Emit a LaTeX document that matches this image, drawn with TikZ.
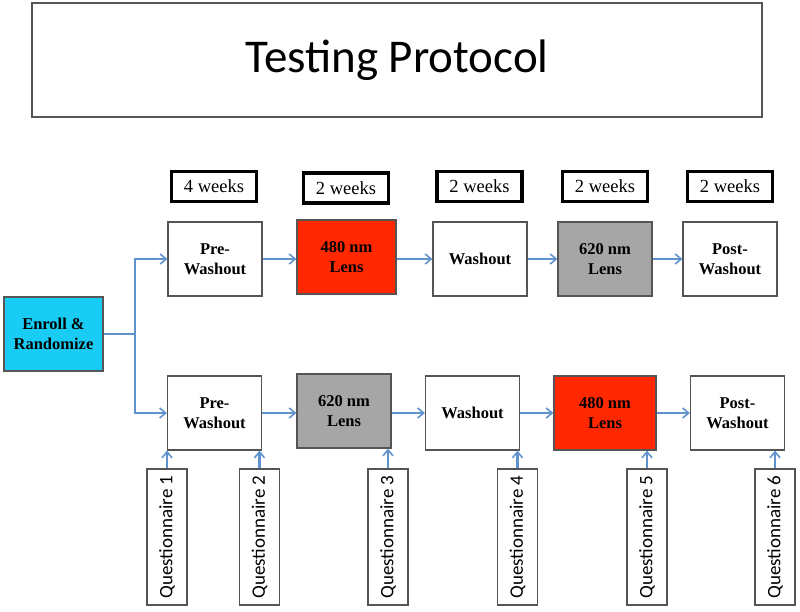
\documentclass[tikz,border=0pt]{standalone}
\usepackage{fontspec}
\setmainfont{Liberation Serif}
\newfontfamily\calibri{Carlito}
\usepackage{tikz}
\usetikzlibrary{positioning, calc, arrows.meta}
\definecolor{flowblue}{RGB}{96,146,206}
\definecolor{lensred}{RGB}{255,40,0}
\definecolor{lensgray}{RGB}{166,166,166}
\definecolor{enrollcyan}{RGB}{24,204,244}
\definecolor{edgegray}{RGB}{85,85,85}
\tikzset{>={Straight Barb[length=6pt,width=10pt,line width=1.6pt]}}
\tikzset{
  phase/.style={draw=edgegray, line width=1.2pt, minimum width=94pt, minimum height=74pt,
    inner sep=0pt, align=center, font=\bfseries\fontsize{16.5}{20}\selectfont},
  weeks/.style={draw=black, line width=3.6pt, minimum width=85pt, minimum height=30pt,
    inner sep=0pt, font=\fontsize{18.5}{22}\selectfont},
  quest/.style={draw=edgegray, line width=1.2pt, rotate=90, minimum width=136pt,
    minimum height=40pt, inner sep=0pt, font=\calibri\fontsize{19}{22}\selectfont},
  flow/.style={->, draw=flowblue, line width=2.4pt}
}

\begin{document}
\begin{tikzpicture}[x=1pt, y=-1pt]
    \useasboundingbox (0,0) rectangle (800,611);

    \node[draw=edgegray, line width=1.4pt, minimum width=730pt, minimum height=114pt,
      font=\calibri\fontsize{47}{56}\selectfont] (title) at (397,60) {Testing Protocol};

    % durations
    \node[weeks] (w1) at (214,186.5) {4 weeks};
    \node[weeks] (w2) at (346,188) {2 weeks};
    \node[weeks] (w3) at (479.5,186.5) {2 weeks};
    \node[weeks] (w4) at (605,186.5) {2 weeks};
    \node[weeks] (w5) at (730,186.5) {2 weeks};

    \node[phase, fill=enrollcyan, minimum width=99pt] (enroll) at (53.5,334) {Enroll \&\\Randomize};
    \coordinate (split) at (135,334);

    % first sequence
    \node[phase] (pw1) at (215,259) {Pre-\\Washout};
    \node[phase, fill=lensred, minimum width=99pt] (lensA1) at (346.5,257) {480 nm\\Lens};
    \node[phase] (wo1) at (480,259) {Washout};
    \node[phase, fill=lensgray] (lensB1) at (605,259) {620 nm\\Lens};
    \node[phase] (post1) at (730,259) {Post-\\Washout};

    % second sequence
    \node[phase] (pw2) at (214.5,413) {Pre-\\Washout};
    \node[phase, fill=lensgray] (lensB2) at (344,411) {620 nm\\Lens};
    \node[phase] (wo2) at (472.5,413) {Washout};
    \node[phase, fill=lensred, minimum width=102pt] (lensA2) at (605,413) {480 nm\\Lens};
    \node[phase] (post2) at (737.5,413) {Post-\\Washout};

    % questionnaires
    \node[quest] (q1) at (167,537) {Questionnaire 1};
    \node[quest] (q2) at (259.5,537) {Questionnaire 2};
    \node[quest] (q3) at (388,537) {Questionnaire 3};
    \node[quest] (q4) at (517.5,537) {Questionnaire 4};
    \node[quest] (q5) at (647,537) {Questionnaire 5};
    \node[quest] (q6) at (775,537) {Questionnaire 6};

    \draw[flowblue, line width=2.4pt] (enroll.east) -- (split);
    \draw[flow] (split) |- (pw1.west);
    \draw[flow] (split) |- (pw2.west);

    \draw[flow] (pw1) -- (pw1 -| lensA1.west);
    \draw[flow] (lensA1.east |- wo1) -- (wo1);
    \draw[flow] (wo1) -- (lensB1);
    \draw[flow] (lensB1) -- (post1);

    \draw[flow] (pw2) -- (pw2 -| lensB2.west);
    \draw[flow] (lensB2.east |- wo2) -- (wo2);
    \draw[flow] (wo2) -- (lensA2);
    \draw[flow] (lensA2) -- (post2);

    \draw[flow] (q1.east) -- (q1.east |- pw2.south);
    \draw[flow] (q2.east) -- (q2.east |- pw2.south);
    \draw[flow] (q3.east) -- (q3.east |- lensB2.south);
    \draw[flow] (q4.east) -- (q4.east |- wo2.south);
    \draw[flow] (q5.east) -- (q5.east |- lensA2.south);
    \draw[flow] (q6.east) -- (q6.east |- post2.south);
\end{tikzpicture}
\end{document}
